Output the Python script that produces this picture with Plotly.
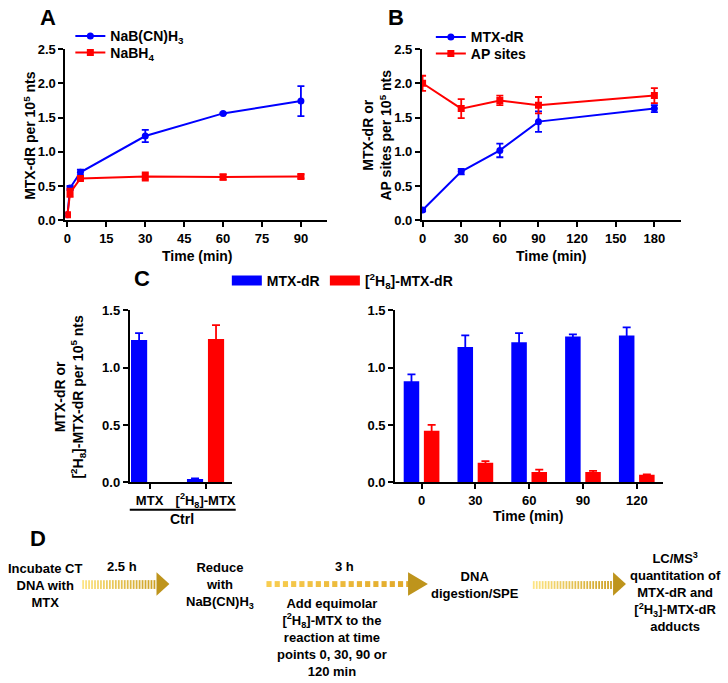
import plotly.graph_objects as go

W, H = 728, 683
def fx(x): return x / W
def fy(y): return 1 - y / H

# ---------------- Data ----------------
# Panel A
a_time = [0, 1, 5, 30, 60, 90]
a_cn = [0.08, 0.47, 0.70, 1.23, 1.56, 1.74]
a_cn_err = [0.02, 0.03, 0.04, 0.09, 0.01, 0.22]
a_bh = [0.08, 0.40, 0.61, 0.64, 0.63, 0.64]
a_bh_err = [0.02, 0.06, 0.02, 0.06, 0.04, 0.03]
a_ticks_x = [0, 15, 30, 45, 60, 75, 90]

# Panel B
b_time = [0, 30, 60, 90, 180]
b_mtx = [0.15, 0.71, 1.02, 1.44, 1.63]
b_mtx_err = [0.02, 0.04, 0.10, 0.15, 0.05]
b_ap = [2.00, 1.63, 1.75, 1.68, 1.82]
b_ap_err = [0.11, 0.14, 0.07, 0.12, 0.11]
b_ticks_x = [0, 30, 60, 90, 120, 150, 180]

ab_ticks_y = [0, 0.5, 1.0, 1.5, 2.0, 2.5]
c_ticks_y = [0, 0.5, 1.0, 1.5]

# Panel C (control); [2H8]-MTX-dR not detected in the MTX control
c_ctrl_cats = ["MTX", "D8MTX"]
c_ctrl_labels = ["MTX", "[<sup>2</sup>H<sub>8</sub>]-MTX"]
c_ctrl_mtx = [1.24, 0.03]
c_ctrl_mtx_err = [0.06, 0.005]
c_ctrl_d8 = [None, 1.25]
c_ctrl_d8_err = [0.0, 0.12]

# Panel C (time course)
c_time_cats = ["0", "30", "60", "90", "120"]
c_time_mtx = [0.88, 1.18, 1.22, 1.27, 1.28]
c_time_mtx_err = [0.06, 0.10, 0.08, 0.02, 0.07]
c_time_d8 = [0.45, 0.17, 0.09, 0.09, 0.065]
c_time_d8_err = [0.05, 0.015, 0.02, 0.01, 0.005]

BLUE = "#0000ff"
RED = "#ff0000"
FONT = "Liberation Sans, Arial, sans-serif"

fig = go.Figure()

def eb(arr, color, w=3.5):
    return dict(type="data", array=arr, visible=True, color=color, thickness=1.8, width=w)

# Panel A
fig.add_trace(go.Scatter(x=a_time, y=a_cn, error_y=eb(a_cn_err, BLUE), mode="lines+markers",
                         name="NaB(CN)H<sub>3</sub>", line=dict(color=BLUE, width=2),
                         marker=dict(symbol="circle", size=7, color=BLUE),
                         xaxis="x", yaxis="y", legend="legend"))
fig.add_trace(go.Scatter(x=a_time, y=a_bh, error_y=eb(a_bh_err, RED), mode="lines+markers",
                         name="NaBH<sub>4</sub>", line=dict(color=RED, width=2),
                         marker=dict(symbol="square", size=7, color=RED),
                         xaxis="x", yaxis="y", legend="legend4"))
# Panel B
fig.add_trace(go.Scatter(x=b_time, y=b_mtx, error_y=eb(b_mtx_err, BLUE), mode="lines+markers",
                         name="MTX-dR", line=dict(color=BLUE, width=2),
                         marker=dict(symbol="circle", size=7, color=BLUE),
                         xaxis="x2", yaxis="y2", legend="legend2"))
fig.add_trace(go.Scatter(x=b_time, y=b_ap, error_y=eb(b_ap_err, RED), mode="lines+markers",
                         name="AP sites", line=dict(color=RED, width=2),
                         marker=dict(symbol="square", size=7, color=RED),
                         xaxis="x2", yaxis="y2", legend="legend5"))
# Panel C left
fig.add_trace(go.Bar(x=c_ctrl_cats, y=c_ctrl_mtx, error_y=eb(c_ctrl_mtx_err, BLUE, 4),
                     marker=dict(color=BLUE, line=dict(width=0)), name="MTX-dR",
                     showlegend=False, xaxis="x3", yaxis="y3"))
fig.add_trace(go.Bar(x=c_ctrl_cats, y=c_ctrl_d8, error_y=eb(c_ctrl_d8_err, RED, 4),
                     marker=dict(color=RED, line=dict(width=0)), name="[<sup>2</sup>H<sub>8</sub>]-MTX-dR",
                     showlegend=False, xaxis="x3", yaxis="y3"))
# Panel C right
fig.add_trace(go.Bar(x=c_time_cats, y=c_time_mtx, error_y=eb(c_time_mtx_err, BLUE, 4),
                     marker=dict(color=BLUE, line=dict(width=0)), name="MTX-dR",
                     showlegend=False, xaxis="x4", yaxis="y4"))
fig.add_trace(go.Bar(x=c_time_cats, y=c_time_d8, error_y=eb(c_time_d8_err, RED, 4),
                     marker=dict(color=RED, line=dict(width=0)), name="[<sup>2</sup>H<sub>8</sub>]-MTX-dR",
                     showlegend=False, xaxis="x4", yaxis="y4"))
# Legend-only entries for panel C (rectangular swatches)
fig.add_trace(go.Scatter(x=[None], y=[None], mode="lines", name="MTX-dR",
                         line=dict(color=BLUE, width=10), xaxis="x4", yaxis="y4", legend="legend3"))
fig.add_trace(go.Scatter(x=[None], y=[None], mode="lines", name="[<sup>2</sup>H<sub>8</sub>]-MTX-dR",
                         line=dict(color=RED, width=10), xaxis="x4", yaxis="y4", legend="legend6"))

axis_common = dict(showline=True, linecolor="black", linewidth=2, ticks="outside",
                   ticklen=5, tickwidth=2, tickcolor="black", showgrid=False, zeroline=False,
                   tickfont=dict(size=13, color="black", family=FONT, weight="bold"),
                   fixedrange=True)

def numticks(vals, fmt):
    return dict(tickmode="array", tickvals=vals, ticktext=[fmt.format(v) for v in vals])

yA = [fy(218), fy(43)]
yC = [fy(486), fy(310)]

def leg(x, y):
    return dict(x=fx(x), y=fy(y), xanchor="left", yanchor="middle", bgcolor="rgba(0,0,0,0)",
                font=dict(size=14), itemclick=False, itemdoubleclick=False)

fig.update_layout(
    xaxis=dict(domain=[fx(63), fx(327)], anchor="y", range=[-0.8, 100],
               **numticks(a_ticks_x, "{:d}"), **axis_common),
    yaxis=dict(domain=yA, anchor="x", range=[0, 2.5], **numticks(ab_ticks_y, "{:.1f}"), **axis_common),
    xaxis2=dict(domain=[fx(423), fx(685)], anchor="y2", range=[-0.5, 201],
                **numticks(b_ticks_x, "{:d}"), **axis_common),
    yaxis2=dict(domain=yA, anchor="x2", range=[0, 2.5], **numticks(ab_ticks_y, "{:.1f}"), **axis_common),
    xaxis3=dict(domain=[fx(128), fx(231)], anchor="y3", type="category",
                range=[-0.354, 1.469], tickvals=c_ctrl_cats, ticktext=c_ctrl_labels,
                **axis_common),
    yaxis3=dict(domain=yC, anchor="x3", range=[0, 1.5], **numticks(c_ticks_y, "{:.1f}"), **axis_common),
    xaxis4=dict(domain=[fx(396), fx(666)], anchor="y4", type="category",
                categoryorder="array", categoryarray=c_time_cats,
                range=[-0.49, 4.48], **axis_common),
    yaxis4=dict(domain=yC, anchor="x4", range=[0, 1.5], **numticks(c_ticks_y, "{:.1f}"), **axis_common),
    barmode="group", bargap=0.25, bargroupgap=0.23,
    width=W, height=H, margin=dict(l=0, r=0, t=0, b=0),
    paper_bgcolor="white", plot_bgcolor="white",
    font=dict(family=FONT, size=14, color="black", weight="bold"),
    legend=leg(68, 30),
    legend4=leg(68, 47),
    legend2=leg(432, 31),
    legend5=leg(432, 48),
    legend3=leg(226, 280),
    legend6=leg(325, 280),
)

annotations = []
def ann(text, x, y, size=14, angle=0, align="center", xanchor="center", yanchor="middle"):
    annotations.append(dict(text=text, x=fx(x), y=fy(y), xref="paper", yref="paper",
                            showarrow=False, textangle=angle, align=align,
                            xanchor=xanchor, yanchor=yanchor,
                            font=dict(size=size, color="black", family=FONT, weight="bold")))

# panel letters
ann("A", 45, 11, 22)
ann("B", 397, 11, 22)
ann("C", 140, 278, 22)
ann("D", 35, 543, 22)
# axis titles
ann("MTX-dR per 10<sup>5</sup> nts", 27, 131, 14, -90)
ann("Time (min)", 196, 255)
ann("MTX-dR or<br>AP sites per 10<sup>5</sup> nts", 378, 131, 14, -90)
ann("Time (min)", 554, 255)
ann("MTX-dR or<br>[<sup>2</sup>H<sub>8</sub>]-MTX-dR per 10<sup>5</sup> nts", 68, 398, 14, -90)
ann("Time (min)", 531, 520)
ann("Ctrl", 181, 524, 14)

# panel D texts
DS = 13
ann("Incubate CT<br>DNA with<br>MTX", 42, 591, DS)
ann("2.5 h", 120, 572, DS)
ann("Reduce<br>with<br>NaB(CN)H<sub>3</sub>", 219, 591, DS)
ann("3 h", 345, 572, DS)
ann("Add equimolar<br>[<sup>2</sup>H<sub>8</sub>]-MTX to the<br>reaction at time<br>points 0, 30, 90 or<br>120 min",
    332, 645, DS)
ann("DNA<br>digestion/SPE", 477, 591, DS)
ann("LC/MS<sup>3</sup><br>quantitation of<br>MTX-dR and<br>[<sup>2</sup>H<sub>3</sub>]-MTX-dR<br>adducts",
    679, 598, DS)

shapes = []
# Ctrl bracket line
shapes.append(dict(type="line", xref="paper", yref="paper", x0=fx(128), x1=fx(235),
                   y0=fy(514), y1=fy(514), line=dict(color="black", width=2)))

def lerp(c1, c2, t):
    return "rgb(%d,%d,%d)" % tuple(round(a + (b - a) * t) for a, b in zip(c1, c2))

LIGHT = (253, 228, 130)
DARK = (205, 160, 35)
HEAD = (190, 148, 28)

def stripe_arrow(x0, x1, xh, step, sw, y0, y1, c_start, c_end):
    n = int((x1 - x0) // step)
    for i in range(n + 1):
        xs = x0 + i * step
        t = i / max(n, 1)
        shapes.append(dict(type="rect", xref="paper", yref="paper", x0=fx(xs), x1=fx(xs + sw),
                           y0=fy(y1), y1=fy(y0), line=dict(width=0),
                           fillcolor=lerp(c_start, c_end, t)))
    path = "M %f,%f L %f,%f L %f,%f Z" % (fx(x1 + 1), fy(578), fx(xh), fy(590), fx(x1 + 1), fy(602))
    shapes.append(dict(type="path", xref="paper", yref="paper", path=path,
                       fillcolor=lerp(HEAD, HEAD, 0), line=dict(width=0)))

stripe_arrow(80, 154, 168, 3.0, 1.8, 586, 595, LIGHT, DARK)
stripe_arrow(266, 408, 429, 8.3, 5.2, 587, 593, (248, 205, 80), (225, 168, 40))
stripe_arrow(535, 615, 629, 3.0, 1.8, 587, 595, LIGHT, DARK)

fig.update_layout(annotations=annotations, shapes=shapes)

css_fix = (
    "var de=document.documentElement,b=document.body;"
    "de.style.margin='0';de.style.padding='0';de.style.overflow='hidden';"
    "b.style.margin='0';b.style.padding='0';b.style.overflow='hidden';"
)
fig.write_html("out.html", config={"displayModeBar": False}, post_script=css_fix)
